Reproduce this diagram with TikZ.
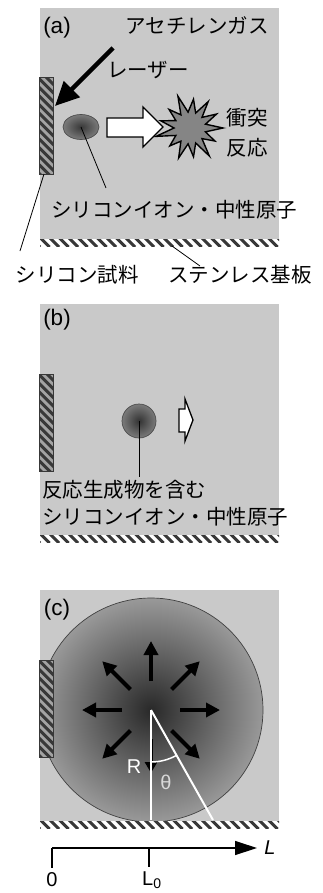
\documentclass[tikz,border=0pt]{standalone}
\usepackage{fontspec}
\setmainfont{Liberation Sans}
\newfontfamily\jpfont{Noto Sans CJK JP}
\usetikzlibrary{arrows.meta, calc}

\definecolor{panelgray}{gray}{0.79}
\definecolor{stripedark}{gray}{0.22}
\definecolor{samplegray}{gray}{0.64}

\tikzset{
  jp/.style={font=\jpfont\fontsize{20.5}{30}\selectfont, inner sep=0pt},
  lbl/.style={font=\fontsize{20}{24}\selectfont, inner sep=0pt},
  tag/.style={font=\fontsize{22.5}{26}\selectfont, inner sep=0pt},
  leader/.style={line width=0.8pt},
  blast/.style={line width=4pt, -{Triangle[length=14pt,width=14pt]}},
  block/.style={fill=white, draw=black, line width=1.3pt, line join=miter},
}

\begin{document}
\begin{tikzpicture}[x=1pt, y=-1pt]
  \useasboundingbox (0,0) rectangle (323,893);

  % gray chambers (a), (b), (c)
  \foreach \oy in {0,296,582} {
    \fill[panelgray] (40,8+\oy) rectangle (279,246+\oy);
  }

  % (c) expanding plume, clipped to the chamber
  \coordinate (plume) at (151,710);
  \begin{scope}
    \clip (40,590) rectangle (279,828);
    \shade[inner color=black!84, outer color=black!40] (plume) circle[radius=112];
    \draw[black!75, line width=0.7pt] (plume) circle[radius=112];
  \end{scope}

  % silicon samples and stainless substrates
  \foreach \oy in {0,296,582} {
    \begin{scope}
      \clip (39,78+\oy) rectangle (53,175+\oy);
      \fill[samplegray] (39,78+\oy) rectangle (53,175+\oy);
      \foreach \k in {-2,...,12}
        \draw[stripedark, line width=3pt] (39,70+\oy+8.6*\k) -- ++(16,16);
    \end{scope}
    \draw[stripedark, line width=1pt] (39,78+\oy) rectangle (53,175+\oy);
    \begin{scope}
      \clip (40,239+\oy) rectangle (279,246+\oy);
      \fill[white] (40,239+\oy) rectangle (279,246+\oy);
      \foreach \k in {0,...,26}
        \draw[stripedark, line width=2.9pt] (30+9.5*\k,237+\oy) -- ++(10,10);
    \end{scope}
  }

  % ---------- (a) ----------
  \node[tag] (tagA) at (57,28) {(a)};
  \node[jp] (gas) at (197,25) {アセチレンガス};
  \node[jp] (laserlbl) at (148,70) {レーザー};
  \coordinate (laserfrom) at (113,48);
  \coordinate (laserto) at (55,106);
  \draw[line width=4.5pt, -{Triangle[length=24pt,width=22pt]}] (laserfrom) -- (laserto);

  \coordinate (ionA) at (81,127);
  \shade[inner color=black!78, outer color=black!52] (ionA) ellipse[x radius=18, y radius=12.5];
  \draw[black!70, line width=0.7pt] (ionA) ellipse[x radius=18, y radius=12.5];

  \draw[block] (107,118) -- (143,118) -- (143,107) -- (163,127) -- (143,147)
    -- (143,137) -- (107,137) -- cycle;

  \coordinate (star) at (190,128);
  \draw[fill=black!48, line width=1.4pt, line join=miter]
    ($(star)+(0:33)$)
    \foreach \k/\r in {0/33,1/28,2/34,3/29,4/32,5/27,6/35,7/30,8/28,9/34,10/29,11/32,12/30} {
      -- ($(star)+({\k*27.69}:\r)$) -- ($(star)+({\k*27.69+13.85}:16)$)
    } -- cycle;
  \node[jp, align=center] (react) at (247,133) {衝突\\反応};

  \node[jp] (ionlblA) at (174,210) {シリコンイオン・中性原子};
  \coordinate (ionlineA) at (106,188);
  \draw[leader] (ionA) -- (ionlineA);

  \node[jp] (samplelbl) at (77,275) {シリコン試料};
  \coordinate (samplefoot) at (44,174);
  \coordinate (samplelead) at (20,251);
  \draw[leader] (samplefoot) -- (samplelead);

  \node[jp] (substlbl) at (240,275) {ステンレス基板};
  \coordinate (substtop) at (172,246);
  \coordinate (substlead) at (200,266);
  \draw[leader] (substtop) -- (substlead);

  % ---------- (b) ----------
  \node[tag] (tagB) at (57,320) {(b)};
  \coordinate (ionB) at (139,421);
  \shade[inner color=black!80, outer color=black!52] (ionB) circle[radius=17];
  \draw[black!70, line width=0.7pt] (ionB) circle[radius=17];
  \draw[block] (179,409) -- (185,409) -- (185,399) -- (193,420) -- (185,441)
    -- (185,432) -- (179,432) -- cycle;
  \coordinate (ionlineB) at (139,477);
  \draw[leader] (ionB) -- (ionlineB);
  \node[jp, align=left, anchor=west, font=\jpfont\fontsize{20.5}{27}\selectfont]
    (prodlbl) at (42,503) {反応生成物を含む\\シリコンイオン・中性原子};

  % ---------- (c) ----------
  \node[tag] (tagC) at (57,610) {(c)};
  \foreach \a in {0,45,135,180,225,270,315}
    \draw[blast] ($(plume)+(\a:29)$) -- ($(plume)+(\a:69)$);
  \draw[line width=3pt, -{Triangle[length=11pt,width=12pt]}] ($(plume)+(0,29)$) -- ($(plume)+(0,63)$);

  \coordinate (foot) at (151,820);
  \coordinate (edge) at (213,820);
  \draw[white, line width=2pt] (plume) -- (foot);
  \draw[white, line width=2pt] (plume) -- (edge);
  \draw[white, line width=1.5pt] ($(plume)+(90:52)$) arc[start angle=90, end angle=60.6, radius=52];
  \node[lbl, white] (rlbl) at (134,767) {R};
  \node[lbl, white!85!black] (thetalbl) at (166,782) {θ};

  % axis under (c)
  \coordinate (zero) at (52,848);
  \coordinate (lzero) at (149,848);
  \coordinate (lend) at (257,848);
  \draw[line width=1.3pt, -{Triangle[length=22pt,width=14pt]}] (zero) -- (lend);
  \draw[line width=1.3pt] (zero) -- ++(0,20);
  \draw[line width=1.3pt] (lzero) -- ++(0,19);
  \node[lbl] (zerolbl) at (52,880) {0};
  \node[lbl, anchor=west] (lzerolbl) at (142,880) {L\textsubscript{0}};
  \node[lbl] (llbl) at (270,848) {\itshape L};
\end{tikzpicture}
\end{document}
